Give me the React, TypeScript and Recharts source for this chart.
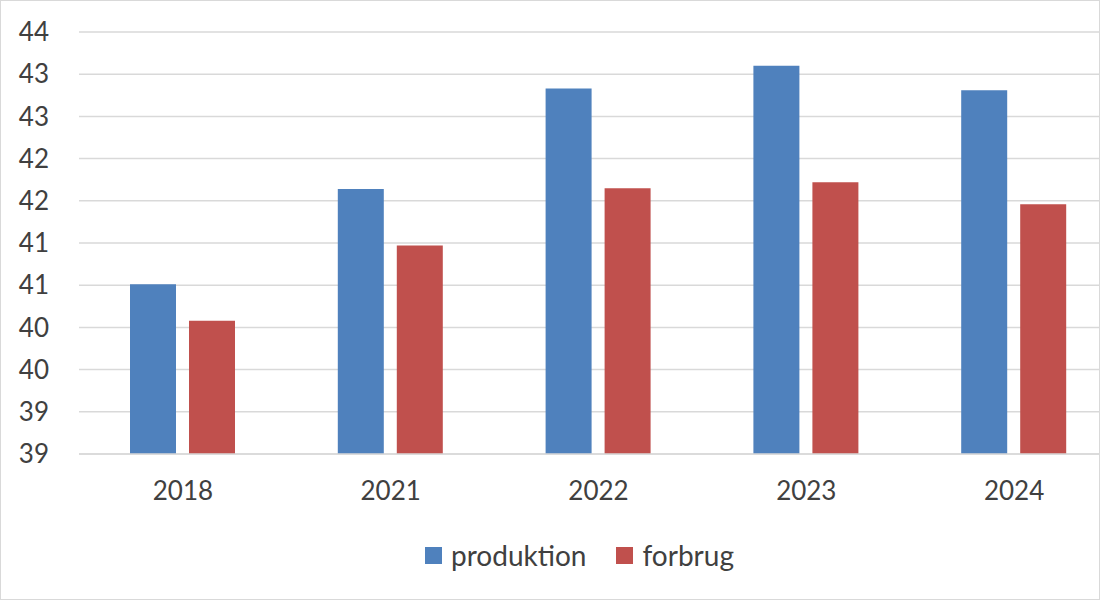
import { BarChart, Bar, XAxis, YAxis, CartesianGrid, Legend } from 'recharts'

// år og værdier
const years = ['2018', '2021', '2022', '2023', '2024']
const produktion = [40.51, 41.64, 42.83, 43.1, 42.81]
const forbrug = [40.08, 40.97, 41.65, 41.72, 41.46]
const yTicks = [38.5, 39, 39.5, 40, 40.5, 41, 41.5, 42, 42.5, 43, 43.5]

const series = [
  { key: 'produktion', color: '#4f81bd' },
  { key: 'forbrug', color: '#c0504d' }
]

const data = years.map((year, i) => ({
  year,
  produktion: produktion[i],
  forbrug: forbrug[i]
}))

const textColor = '#404040'
const gridColor = '#d9d9d9'
const font = 'Lato, "Open Sans", sans-serif'

// legend i samme rækkefølge som serierne
function renderLegend() {
  return (
    <div style={{ display: 'flex', justifyContent: 'center', alignItems: 'center', paddingLeft: 40, height: 32 }}>
      {series.map(s => (
        <div key={s.key} style={{ display: 'flex', alignItems: 'center', margin: '0 15px' }}>
          <span style={{ width: 17, height: 17, background: s.color, display: 'inline-block', marginRight: 9 }} />
          <span style={{ fontSize: 28, color: textColor, fontFamily: font }}>{s.key}</span>
        </div>
      ))}
    </div>
  )
}

export default function App() {
  return (
    <div
      style={{
        position: 'absolute',
        left: 0,
        top: 0,
        width: 1100,
        height: 600,
        boxSizing: 'border-box',
        border: `1px solid ${gridColor}`,
        overflow: 'hidden',
        background: '#fff',
        fontFamily: font
      }}
    >
      <BarChart
        width={1140}
        height={598}
        data={data}
        margin={{ top: 31, right: 23, left: 0, bottom: 28 }}
        barGap={13}
        barSize={46}
      >
        <CartesianGrid vertical={false} stroke={gridColor} strokeWidth={1.5} />
        <XAxis
          dataKey="year"
          tickLine={false}
          tickSize={0}
          tickMargin={28}
          axisLine={{ stroke: gridColor, strokeWidth: 1.5 }}
          tick={{ fill: textColor, fontSize: 26, fontFamily: font }}
          height={85}
        />
        <YAxis
          domain={[38.5, 43.5]}
          ticks={yTicks}
          interval={0}
          tickFormatter={(v: number) => String(Math.round(v))}
          tickLine={false}
          tickSize={0}
          tickMargin={30}
          axisLine={false}
          width={78}
          tick={{ fill: textColor, fontSize: 26, fontFamily: font }}
        />
        <Legend verticalAlign="bottom" content={renderLegend} />
        {series.map(s => (
          <Bar key={s.key} dataKey={s.key} name={s.key} fill={s.color} isAnimationActive={false} />
        ))}
      </BarChart>
    </div>
  )
}
